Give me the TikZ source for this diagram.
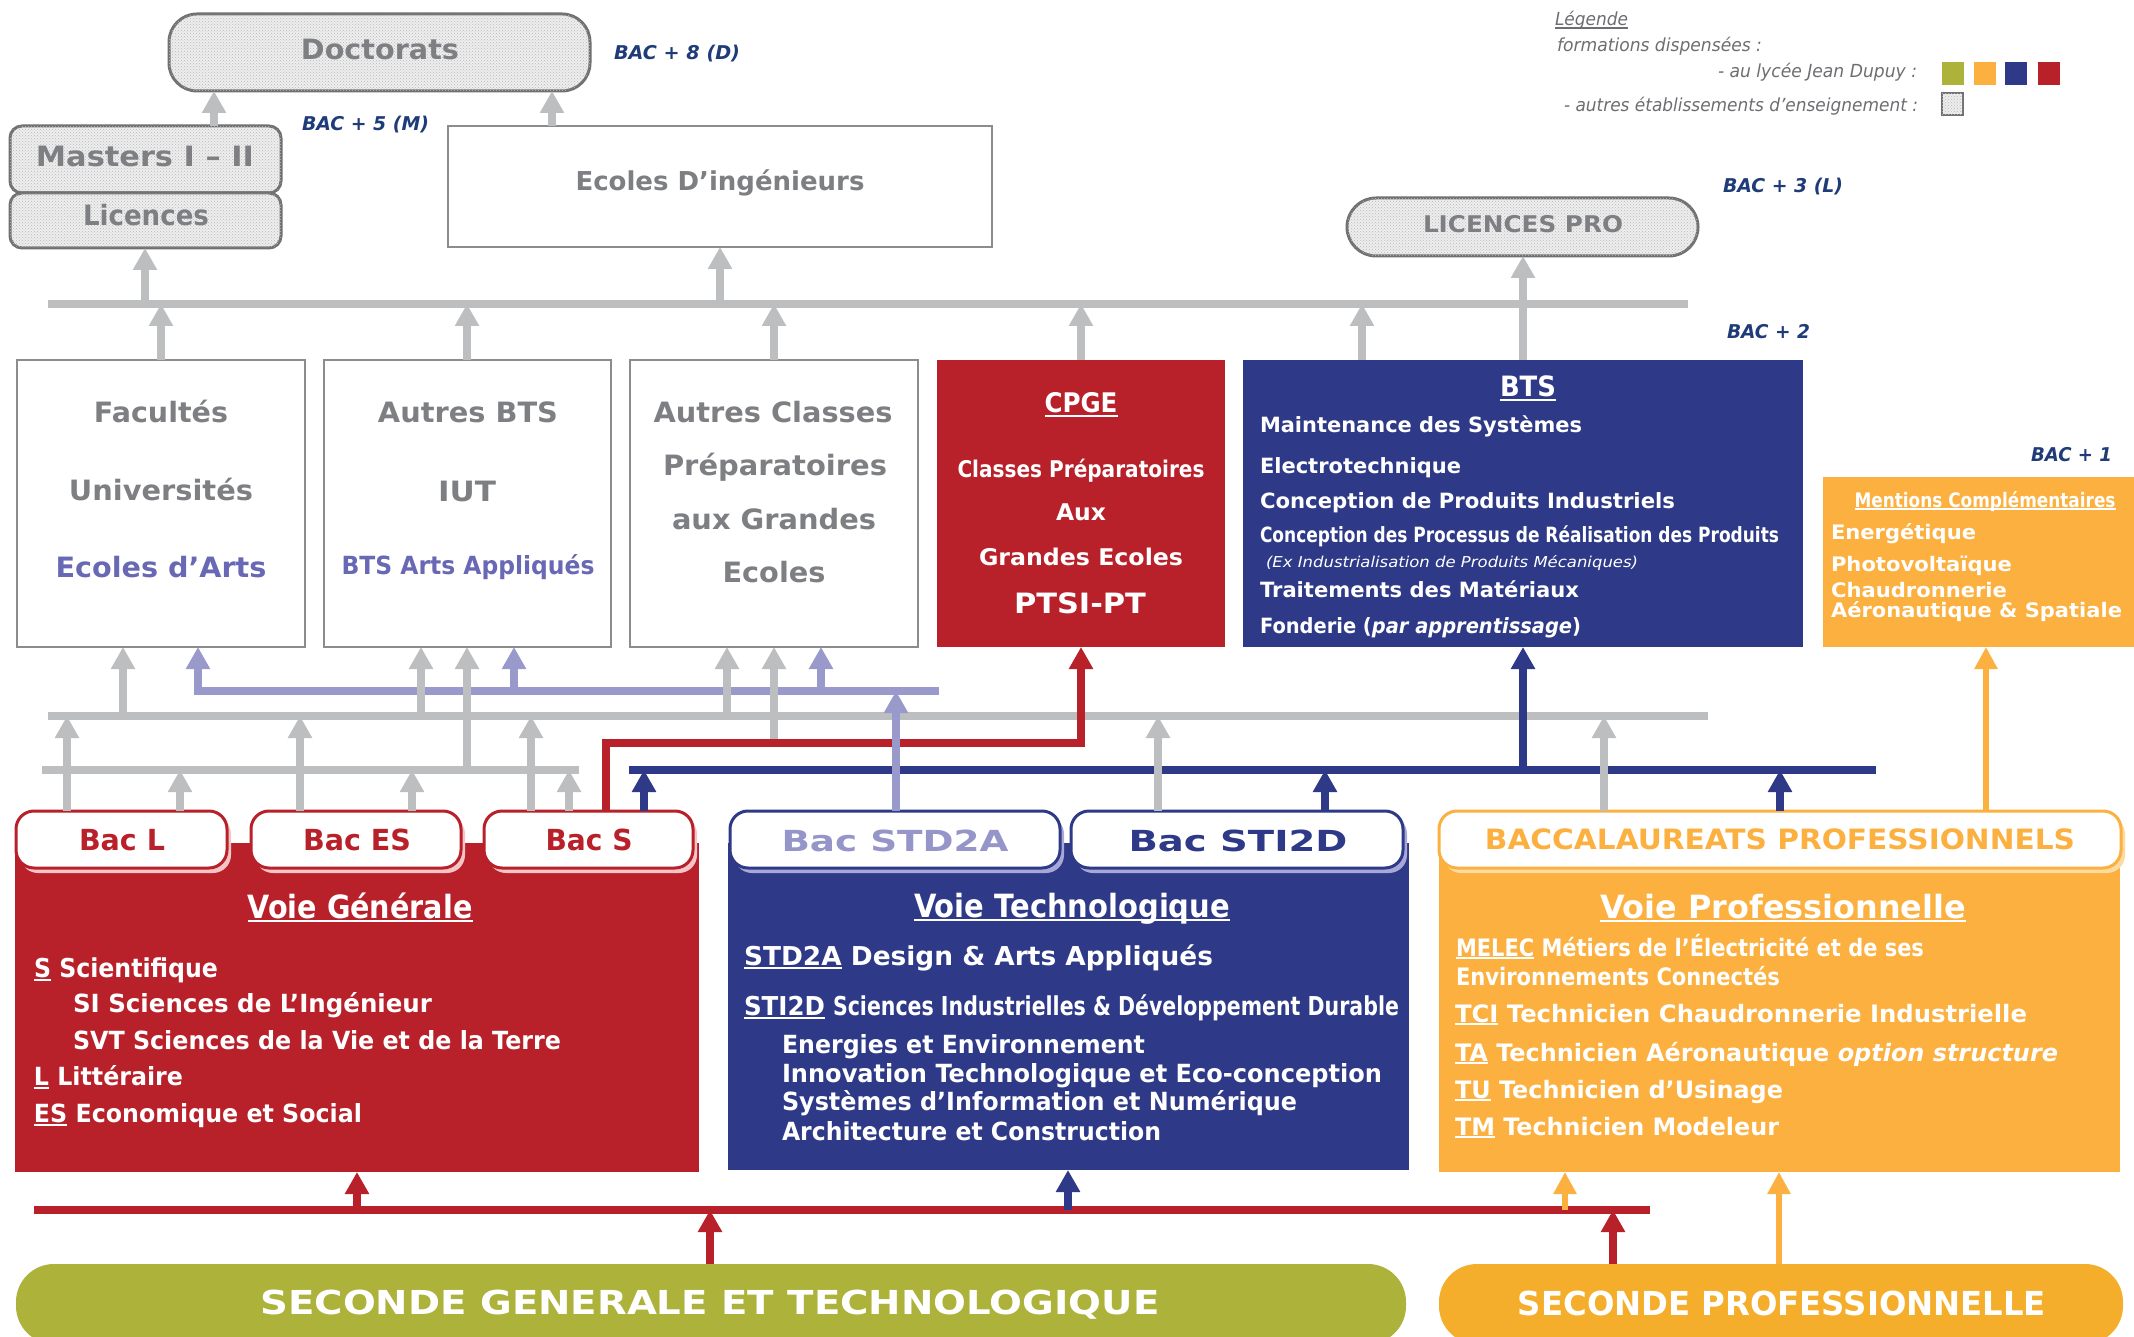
\documentclass[tikz,border=0pt]{standalone}
\usepackage{fontspec}
\setmainfont{DejaVu Sans}
\usepackage{graphicx}
\usetikzlibrary{arrows.meta,patterns,shadows}

\definecolor{jred}{HTML}{B8202A}
\definecolor{jblue}{HTML}{2E3A87}
\definecolor{jorange}{HTML}{FBB040}
\definecolor{jorangeb}{HTML}{F5AE2B}
\definecolor{jolive}{HTML}{ACB23A}
\definecolor{lgray}{HTML}{BCBEC0}
\definecolor{lpurple}{HTML}{9999CC}
\definecolor{tpurple}{HTML}{6868B4}
\definecolor{tpurpleb}{HTML}{9595C9}
\definecolor{bgray}{HTML}{8C8C8C}
\definecolor{tgray}{HTML}{7D7F82}
\definecolor{dgray}{HTML}{707070}
\definecolor{bacblue}{HTML}{1F3C78}
\definecolor{leggray}{HTML}{6D6E71}
\definecolor{shred}{HTML}{F4C4C7}
\definecolor{shblue}{HTML}{A8A8D8}
\definecolor{shorange}{HTML}{FDDBA0}
\definecolor{dotfill}{HTML}{EEEEEE}

\newcommand\tx[2]{\resizebox{#1pt}{\height}{#2}}
\newcommand\fs[1]{\fontsize{#1}{#1}\selectfont}
\newcommand\undl[1]{\leavevmode\setbox0=\hbox{#1}\rlap{\rule[-0.14em]{\wd0}{0.08em}}\box0\relax}

\tikzset{
  x=1pt, y=-1pt,
  T/.style={inner sep=0pt, outer sep=0pt},
  dotbox/.style={draw=dgray, line width=3pt, fill=dotfill, inner sep=0pt, outer sep=0pt,
    postaction={pattern=crosshatch dots, pattern color=gray!55}},
  wbox/.style={draw=bgray, line width=2.5pt, fill=white, inner sep=0pt, outer sep=0pt},
  cbox/.style={fill=#1, inner sep=0pt, outer sep=0pt},
  tabbox/.style 2 args={draw=#1, line width=3pt, fill=white, rounded corners=18pt, inner sep=0pt, outer sep=0pt,
    general shadow={fill=#2, shadow xshift=4pt, shadow yshift=-5pt}},
  arr/.style={line width=7.5pt, -{Triangle[width=23pt,length=22pt]}},
  oarr/.style={line width=6.5pt, -{Triangle[width=22pt,length=22pt]}},
  bus/.style={line width=7.5pt},
  gtx/.style={T, anchor=base, text=tgray, font=\fs{#1}\bfseries},
  bac/.style={T, anchor=base west, text=bacblue, font=\fs{19}\bfseries\itshape},
  leg/.style={T, text=leggray, font=\fs{18}\itshape},
  wc/.style={T, anchor=base, text=white, font=\fs{#1}\bfseries},
  wl/.style={T, anchor=base west, text=white, font=\fs{#1}\bfseries},
  tabt/.style 2 args={T, anchor=base, text=#1, font=\fs{#2}\bfseries},
}

\begin{document}
\begin{tikzpicture}
\useasboundingbox (0,0) rectangle (2134,1337);
\fill[white] (0,0) rectangle (2134,1337);

% ---------- upper boxes ----------
\node[dotbox, rounded corners=28pt, minimum width=421pt, minimum height=77pt] (doct) at (379.5,52.5) {};
\node[dotbox, rounded corners=12pt, minimum width=271pt, minimum height=67pt] (mast) at (145.5,159.5) {};
\node[dotbox, rounded corners=12pt, minimum width=271pt, minimum height=55pt] (lic) at (145.5,220.5) {};
\node[wbox, minimum width=544pt, minimum height=121pt] (ing) at (720,186.5) {};
\node[dotbox, rounded corners=29pt, minimum width=351pt, minimum height=58pt] (lpro) at (1522.5,227) {};

\node[wbox, minimum width=288pt, minimum height=287pt] (fac) at (161,503.5) {};
\node[wbox, minimum width=287pt, minimum height=287pt] (abts) at (467.5,503.5) {};
\node[wbox, minimum width=288pt, minimum height=287pt] (acl) at (774,503.5) {};
\node[cbox=jred, minimum width=288pt, minimum height=287pt] (cpge) at (1081,503.5) {};
\node[cbox=jblue, minimum width=560pt, minimum height=287pt] (bts) at (1523,503.5) {};
\node[cbox=jorange, minimum width=317pt, minimum height=170pt] (mc) at (1981.5,562) {};

% ---------- lower boxes ----------
\node[cbox=jred, minimum width=684pt, minimum height=329pt] (vg) at (357,1007.5) {};
\node[cbox=jblue, minimum width=681pt, minimum height=327pt] (vt) at (1068.5,1006.5) {};
\node[cbox=jorange, minimum width=681pt, minimum height=329pt] (vp) at (1779.5,1007.5) {};

\node[tabbox={jred}{shred}, minimum width=211pt, minimum height=57pt] (bacl) at (121.5,839.5) {};
\node[tabbox={jred}{shred}, minimum width=210pt, minimum height=57pt] (bacs_es) at (356,839.5) {};
\node[tabbox={jred}{shred}, minimum width=209pt, minimum height=57pt] (bacs) at (588.5,839.5) {};
\node[tabbox={jblue}{shblue}, minimum width=330pt, minimum height=57pt] (bacstd) at (895,839.5) {};
\node[tabbox={jblue}{shblue}, minimum width=332pt, minimum height=57pt] (bacsti) at (1237,839.5) {};
\node[tabbox={jorange}{shorange}, minimum width=682pt, minimum height=57pt] (bacpro) at (1780,839.5) {};

\node[fill=jolive, rounded corners=38pt, minimum width=1390pt, minimum height=80pt, inner sep=0pt, outer sep=0pt] (sgt) at (711,1304) {};
\node[fill=jorangeb, rounded corners=38pt, minimum width=684pt, minimum height=80pt, inner sep=0pt, outer sep=0pt] (spro) at (1781,1304) {};

% ---------- legend squares ----------
\node[cbox=jolive, minimum width=22pt, minimum height=23pt] (lg1) at (1953,73.5) {};
\node[cbox=jorange, minimum width=22pt, minimum height=23pt] (lg2) at (1984.5,73.5) {};
\node[cbox=jblue, minimum width=22pt, minimum height=23pt] (lg3) at (2016,73.5) {};
\node[cbox=jred, minimum width=22pt, minimum height=23pt] (lg4) at (2049,73.5) {};
\node[dotbox, line width=2pt, minimum width=21pt, minimum height=22pt] (lg5) at (1952,104) {};

% ---------- bus coordinates ----------
\coordinate (b1a) at (48,304);   \coordinate (b1b) at (1688,304);
\coordinate (pba) at (198,691);  \coordinate (pbb) at (939,691);
\coordinate (b2a) at (48,716);   \coordinate (b2b) at (1708,716);
\coordinate (rba) at (606,743);  \coordinate (rbb) at (1081,743);
\coordinate (b3a) at (42,770);   \coordinate (b3b) at (579,770);
\coordinate (blba) at (629,770); \coordinate (blbb) at (1876,770);
\coordinate (r2a) at (34,1210);  \coordinate (r2b) at (1650,1210);

% ---------- bus lines ----------
\draw[bus, lgray] (b1a) -- (b1b);
\draw[bus, lgray] (b2a) -- (b2b);
\draw[bus, lgray] (b3a) -- (b3b);
\draw[bus, jblue] (blba) -- (blbb);
\draw[arr, lpurple, line join=miter] (pbb) -- (pba) -- (fac.south -| pba);

% ---------- gray arrows, top ----------
\draw[arr, lgray] (mast.north -| 214,0) -- (doct.south -| 214,0);
\draw[arr, lgray] (ing.north -| 552,0) -- (doct.south -| 552,0);
\draw[arr, lgray] (145,0 |- b1a) -- (lic.south -| 145,0);
\draw[arr, lgray] (720,0 |- b1a) -- (ing.south -| 720,0);
\draw[arr, lgray] (bts.north -| 1523,0) -- (lpro.south -| 1523,0);
\draw[arr, lgray] (fac.north -| 161,0) -- (161,0 |- b1a);
\draw[arr, lgray] (abts.north -| 467,0) -- (467,0 |- b1a);
\draw[arr, lgray] (acl.north -| 774,0) -- (774,0 |- b1a);
\draw[arr, lgray] (cpge.north -| 1081,0) -- (1081,0 |- b1a);
\draw[arr, lgray] (bts.north -| 1362,0) -- (1362,0 |- b1a);

% ---------- gray arrows, middle ----------
\draw[arr, lgray] (123,0 |- b2a) -- (fac.south -| 123,0);
\draw[arr, lgray] (421,0 |- b2a) -- (abts.south -| 421,0);
\draw[arr, lgray] (727,0 |- b2a) -- (acl.south -| 727,0);
\draw[arr, lgray] (467,0 |- b3a) -- (abts.south -| 467,0);
\draw[arr, lgray] (774,0 |- rba) -- (acl.south -| 774,0);
\draw[arr, lgray] (bacl.north -| 67,0) -- (67,0 |- b2a);
\draw[arr, lgray] (bacs_es.north -| 300,0) -- (300,0 |- b2a);
\draw[arr, lgray] (bacs.north -| 531,0) -- (531,0 |- b2a);
\draw[arr, lgray] (bacsti.north -| 1158,0) -- (1158,0 |- b2a);
\draw[arr, lgray] (bacpro.north -| 1604,0) -- (1604,0 |- b2a);
\draw[arr, lgray] (bacl.north -| 180,0) -- (180,0 |- b3a);
\draw[arr, lgray] (bacs_es.north -| 412,0) -- (412,0 |- b3a);
\draw[arr, lgray] (bacs.north -| 569,0) -- (569,0 |- b3a);

% ---------- red ----------
\draw[arr, jred, line join=miter] (bacs.north -| rba) -- (rba) -- (rbb) -- (cpge.south -| rbb);

% ---------- blue ----------
\draw[arr, jblue] (bacs.north -| 644,0) -- (644,0 |- blba);
\draw[arr, jblue] (bacsti.north -| 1325,0) -- (1325,0 |- blba);
\draw[arr, jblue] (bacpro.north -| 1780,0) -- (1780,0 |- blba);
\draw[arr, jblue] (1523,0 |- blba) -- (bts.south -| 1523,0);

% ---------- orange ----------
\draw[oarr, jorange] (bacpro.north -| 1986,0) -- (mc.south -| 1986,0);

% ---------- purple ----------
\draw[arr, lpurple] (514,0 |- pba) -- (abts.south -| 514,0);
\draw[arr, lpurple] (821,0 |- pba) -- (acl.south -| 821,0);
\draw[arr, lpurple] (bacstd.north -| 896,0) -- (896,0 |- pba);

% ---------- bottom ----------
\draw[bus, jred] (r2a) -- (r2b);
\draw[arr, jred] (357,0 |- r2a) -- (vg.south -| 357,0);
\draw[arr, jblue] (1068,0 |- r2a) -- (vt.south -| 1068,0);
\draw[oarr, jorange] (1565,0 |- r2a) -- (vp.south -| 1565,0);
\draw[arr, jred] (sgt.north -| 710,0) -- (710,0 |- r2a);
\draw[arr, jred] (spro.north -| 1613,0) -- (1613,0 |- r2a);
\draw[oarr, jorange] (spro.north -| 1779,0) -- (vp.south -| 1779,0);

% ---------- texts, top ----------
\node[gtx=28] (tdoc) at (380,60) {\tx{158}{Doctorats}};
\node[bac] (tb8) at (614,60) {\tx{126}{BAC + 8 (D)}};
\node[bac] (tb5) at (302,131) {\tx{127}{BAC + 5 (M)}};
\node[gtx=28] (tmas) at (145,167) {\tx{218}{Masters I – II}};
\node[gtx=28] (tlic) at (146,226) {\tx{126}{Licences}};
\node[gtx=26] (ting) at (720,191) {\tx{289}{Ecoles D’ingénieurs}};
\node[gtx=23] (tlpro) at (1523,233) {\tx{200}{LICENCES PRO}};
\node[bac] (tb3) at (1723,193) {\tx{120}{BAC + 3 (L)}};
\node[bac] (tb2) at (1727,339) {\tx{83}{BAC + 2}};
\node[bac] (tb1) at (2031,461) {\tx{81}{BAC + 1}};

\node[leg, anchor=base west] (tleg) at (1555,26) {\tx{73}{\undl{Légende}}};
\node[leg, anchor=base west] (tform) at (1557,52) {\tx{205}{formations dispensées :}};
\node[leg, anchor=base east] (tlyc) at (1917,78) {\tx{199}{- au lycée Jean Dupuy :}};
\node[leg, anchor=base east] (taut) at (1918,112) {\tx{354}{- autres établissements d’enseignement :}};

% ---------- gray boxes texts ----------
\node[gtx=28] (tfac) at (161,422) {\tx{134}{Facultés}};
\node[gtx=28] (tuni) at (161,500) {\tx{184}{Universités}};
\node[gtx=28, text=tpurple] (tart) at (161,577) {\tx{211}{Ecoles d’Arts}};
\node[gtx=28] (tabts) at (468,422) {\tx{180}{Autres BTS}};
\node[gtx=28] (tiut) at (467,501) {\tx{58}{IUT}};
\node[gtx=25, text=tpurple] (tbaa) at (468,574) {\tx{253}{BTS Arts Appliqués}};
\node[gtx=28] (tac1) at (773,422) {\tx{239}{Autres Classes}};
\node[gtx=28] (tac2) at (775,475) {\tx{224}{Préparatoires}};
\node[gtx=28] (tac3) at (774,529) {\tx{204}{aux Grandes}};
\node[gtx=28] (tac4) at (774,582) {\tx{103}{Ecoles}};

% ---------- CPGE ----------
\node[wc=27] (tcp1) at (1081,413) {\tx{73}{\undl{CPGE}}};
\node[wc=23] (tcp2) at (1081,477) {\tx{247}{Classes Préparatoires}};
\node[wc=23] (tcp3) at (1081,520) {\tx{50}{Aux}};
\node[wc=23] (tcp4) at (1081,565) {\tx{204}{Grandes Ecoles}};
\node[wc=28] (tcp5) at (1080,613) {\tx{132}{PTSI-PT}};

% ---------- BTS ----------
\node[wc=28] (tbts) at (1528,397) {\tx{56}{\undl{BTS}}};
\node[wl=21] (tbt1) at (1260,432) {\tx{322}{Maintenance des Systèmes}};
\node[wl=21] (tbt2) at (1260,473) {\tx{201}{Electrotechnique}};
\node[wl=21] (tbt3) at (1260,508) {\tx{415}{Conception de Produits Industriels}};
\node[wl=21] (tbt4) at (1260,542) {\tx{519}{Conception des Processus de Réalisation des Produits}};
\node[T, anchor=base west, text=white, font=\fs{15}\itshape] (tbt5) at (1266,567) {\tx{372}{(Ex Industrialisation de Produits Mécaniques)}};
\node[wl=21] (tbt6) at (1260,597) {\tx{319}{Traitements des Matériaux}};
\node[wl=21] (tbt7) at (1260,633) {\tx{321}{Fonderie (\textit{par apprentissage})}};

% ---------- Mentions ----------
\node[wc=20] (tmc0) at (1985,507) {\tx{261}{\undl{Mentions Complémentaires}}};
\node[wl=20] (tmc1) at (1831,539) {\tx{145}{Energétique}};
\node[wl=20] (tmc2) at (1831,571) {\tx{181}{Photovoltaïque}};
\node[wl=20] (tmc3) at (1831,597) {\tx{176}{Chaudronnerie}};
\node[wl=20] (tmc4) at (1831,617) {\tx{291}{Aéronautique \& Spatiale}};

% ---------- tabs ----------
\node[tabt={jred}{29}] (tbl) at (122,850) {\tx{86}{Bac L}};
\node[tabt={jred}{29}] (tbes) at (357,850) {\tx{108}{Bac ES}};
\node[tabt={jred}{29}] (tbs) at (589,850) {\tx{87}{Bac S}};
\node[tabt={tpurpleb}{29}] (tbstd) at (895,851) {\tx{227}{Bac STD2A}};
\node[tabt={jblue}{29}] (tbsti) at (1238,851) {\tx{219}{Bac STI2D}};
\node[tabt={jorange}{28}] (tbpro) at (1780,849) {\tx{590}{BACCALAUREATS PROFESSIONNELS}};

% ---------- Voie headings ----------
\node[wc=32] (tvg) at (360,918) {\tx{225}{\undl{Voie Générale}}};
\node[wc=32] (tvt) at (1072,917) {\tx{316}{\undl{Voie Technologique}}};
\node[wc=32] (tvp) at (1783,918) {\tx{366}{\undl{Voie Professionnelle}}};

% ---------- Voie Generale ----------
\node[wl=26] (tg1) at (34,977) {\tx{184}{\undl{S} Scientifique}};
\node[wl=25] (tg2) at (73,1012) {\tx{359}{SI Sciences de L’Ingénieur}};
\node[wl=25] (tg3) at (73,1049) {\tx{488}{SVT Sciences de la Vie et de la Terre}};
\node[wl=25] (tg4) at (34,1085) {\tx{149}{\undl{L} Littéraire}};
\node[wl=25] (tg5) at (34,1122) {\tx{328}{\undl{ES} Economique et Social}};

% ---------- Voie Technologique ----------
\node[wl=26] (tt1) at (744,965) {\tx{469}{\undl{STD2A} Design \& Arts Appliqués}};
\node[wl=26] (tt2) at (744,1015) {\tx{81}{\undl{STI2D}}\hspace{8pt}\tx{566}{Sciences Industrielles \& Développement Durable}};
\node[wl=25] (tt3) at (782,1053) {\tx{363}{Energies et Environnement}};
\node[wl=25] (tt4) at (782,1082) {\tx{600}{Innovation Technologique et Eco-conception}};
\node[wl=25] (tt5) at (782,1110) {\tx{515}{Systèmes d’Information et Numérique}};
\node[wl=25] (tt6) at (782,1140) {\tx{379}{Architecture et Construction}};

% ---------- Voie Professionnelle ----------
\node[wl=24] (tp1) at (1456,956) {\tx{468}{\undl{MELEC} Métiers de l’Électricité et de ses}};
\node[wl=24] (tp2) at (1456,985) {\tx{324}{Environnements Connectés}};
\node[wl=24] (tp3) at (1455,1022) {\tx{572}{\undl{TCI} Technicien Chaudronnerie Industrielle}};
\node[wl=24] (tp4) at (1455,1061) {\tx{603}{\undl{TA} Technicien Aéronautique \textit{option structure}}};
\node[wl=24] (tp5) at (1455,1098) {\tx{328}{\undl{TU} Technicien d’Usinage}};
\node[wl=24] (tp6) at (1455,1135) {\tx{324}{\undl{TM} Technicien Modeleur}};

% ---------- Secondes ----------
\node[wc=33] (ts1) at (710,1314) {\tx{899}{SECONDE GENERALE ET TECHNOLOGIQUE}};
\node[wc=33] (ts2) at (1782,1315) {\tx{528}{SECONDE PROFESSIONNELLE}};
\end{tikzpicture}
\end{document}
